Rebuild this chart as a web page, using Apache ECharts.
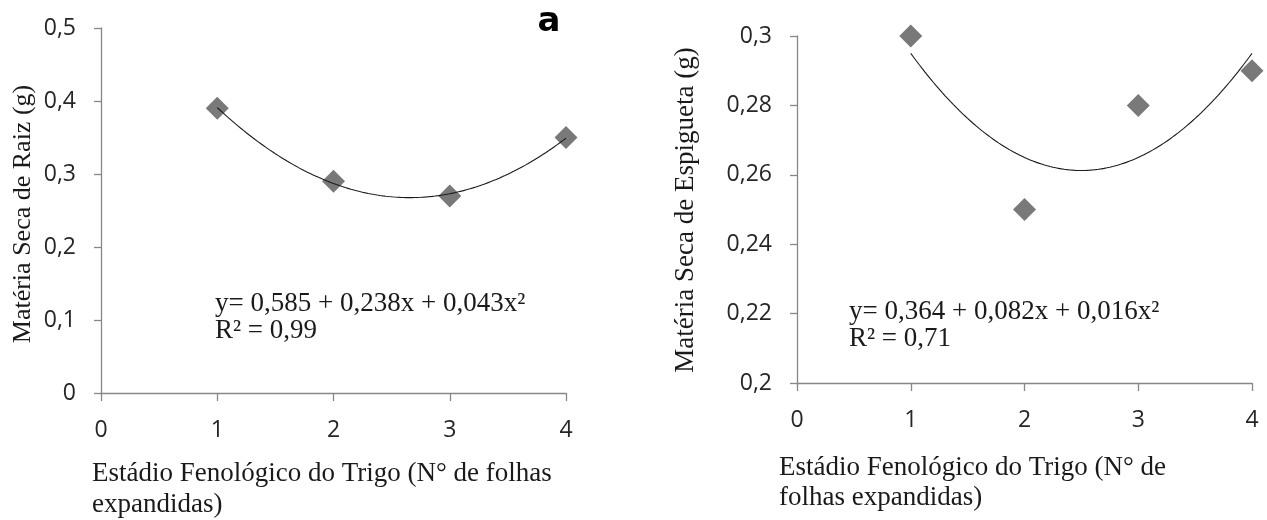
<!DOCTYPE html>
<html>
<head>
<meta charset="utf-8">
<script src="https://cdn.jsdelivr.net/npm/echarts@6/dist/echarts.min.js"></script>
<style>
  html, body { margin: 0; padding: 0; background: #fff; }
  #chart { width: 1267px; height: 520px; }
</style>
</head>
<body>
<div id="chart"></div>
<script>
// Wheat phenological stage (number of expanded leaves)
const stages = [1, 2, 3, 4];
// Root dry matter (g)
const rootDryMatter = [0.39, 0.29, 0.27, 0.35];
// Spikelet dry matter (g)
const spikeletDryMatter = [0.30, 0.25, 0.28, 0.29];

const xTicks = [0, 1, 2, 3, 4];
const rootTicks = ['0', '0,1', '0,2', '0,3', '0,4', '0,5'];
const spikeletTicks = ['0,2', '0,22', '0,24', '0,26', '0,28', '0,3'];

const rootEquation = ['y= 0,585 + 0,238x + 0,043x²', 'R² = 0,99'];
const spikeletEquation = ['y= 0,364 + 0,082x + 0,016x²', 'R² = 0,71'];

// Least-squares quadratic fit y = a + b x + c x^2
function quadFit(xs, ys) {
  let S = [0, 0, 0, 0, 0], T = [0, 0, 0];
  xs.forEach((x, i) => {
    for (let k = 0; k < 5; k++) S[k] += Math.pow(x, k);
    for (let k = 0; k < 3; k++) T[k] += ys[i] * Math.pow(x, k);
  });
  const M = [[S[0], S[1], S[2], T[0]], [S[1], S[2], S[3], T[1]], [S[2], S[3], S[4], T[2]]];
  for (let i = 0; i < 3; i++) {
    for (let j = i + 1; j < 3; j++) {
      const f = M[j][i] / M[i][i];
      for (let k = i; k < 4; k++) M[j][k] -= f * M[i][k];
    }
  }
  const c = [0, 0, 0];
  for (let i = 2; i >= 0; i--) {
    let s = M[i][3];
    for (let k = i + 1; k < 3; k++) s -= M[i][k] * c[k];
    c[i] = s / M[i][i];
  }
  return c;
}
function trend(xs, ys) {
  const [a, b, c] = quadFit(xs, ys);
  const pts = [];
  const x0 = xs[0], x1 = xs[xs.length - 1];
  for (let i = 0; i <= 120; i++) {
    const x = x0 + (x1 - x0) * i / 120;
    pts.push([x, a + b * x + c * x * x]);
  }
  return pts;
}

const axisGray = '#878787';
const tickFont = { fontFamily: 'Open Sans', fontSize: 23, color: '#262626' };
const serifFont = '27px "Liberation Serif"';

function xAxisCfg(gridIndex) {
  return {
    type: 'value', gridIndex, min: xTicks[0], max: xTicks[xTicks.length - 1], interval: 1,
    axisLine: { show: true, onZero: false, lineStyle: { color: axisGray, width: 1.3 } },
    axisTick: { show: true, length: 8, lineStyle: { color: axisGray, width: 1.3 } },
    axisLabel: Object.assign({ margin: 26 }, tickFont),
    splitLine: { show: false }
  };
}
function yAxisCfg(gridIndex, min, max, interval, labels) {
  return {
    type: 'value', gridIndex, min, max, interval,
    axisLine: { show: true, lineStyle: { color: axisGray, width: 1.3 } },
    axisTick: { show: true, length: 7, lineStyle: { color: axisGray, width: 1.3 } },
    axisLabel: Object.assign({
      margin: 25,
      formatter: v => labels[Math.round((v - min) / interval)]
    }, tickFont),
    splitLine: { show: false }
  };
}

function scatterSeries(idx, ys) {
  return {
    type: 'scatter', xAxisIndex: idx, yAxisIndex: idx,
    data: stages.map((x, i) => [x, ys[i]]),
    symbol: 'diamond', symbolSize: 23,
    itemStyle: { color: '#575757' }, z: 3
  };
}
function trendSeries(idx, ys) {
  return {
    type: 'line', xAxisIndex: idx, yAxisIndex: idx,
    data: trend(stages, ys), showSymbol: false, smooth: false,
    lineStyle: { color: '#1a1a1a', width: 1.1 }, z: 4, silent: true
  };
}

function text(x, y, str, opts) {
  return {
    type: 'text', x, y, silent: true,
    style: Object.assign({ text: str, fill: '#1a1a1a', font: serifFont, textVerticalAlign: 'middle' }, opts || {})
  };
}

const chart = echarts.init(document.getElementById('chart'), null, { renderer: 'canvas' });
chart.setOption({
  animation: false,
  backgroundColor: '#ffffff',
  grid: [
    { left: 101, top: 28, width: 465, height: 365 },
    { left: 797, top: 36, width: 455, height: 347 }
  ],
  xAxis: [xAxisCfg(0), xAxisCfg(1)],
  yAxis: [
    yAxisCfg(0, 0, 0.5, 0.1, rootTicks),
    yAxisCfg(1, 0.2, 0.3, 0.02, spikeletTicks)
  ],
  series: [
    trendSeries(0, rootDryMatter),
    scatterSeries(0, rootDryMatter),
    trendSeries(1, spikeletDryMatter),
    scatterSeries(1, spikeletDryMatter)
  ],
  graphic: [
    // panel letter
    text(549, 22, 'a', { font: 'bold 34px "DejaVu Sans"', fill: '#000', textAlign: 'center' }),
    // y-axis titles
    Object.assign(text(23, 214, 'Matéria Seca de Raiz (g)', { textAlign: 'center', font: '26px "Liberation Serif"' }), { rotation: Math.PI / 2 }),
    Object.assign(text(686, 210, 'Matéria Seca de Espigueta (g)', { textAlign: 'center' }), { rotation: Math.PI / 2 }),
    // x-axis titles
    text(92, 474, 'Estádio Fenológico do Trigo (N° de folhas'),
    text(92, 505, 'expandidas)'),
    text(779, 468, 'Estádio Fenológico do Trigo (N° de'),
    text(779, 498, 'folhas expandidas)'),
    // fitted equations
    text(215, 304, rootEquation[0]),
    text(215, 331, rootEquation[1]),
    text(849, 312, spikeletEquation[0]),
    text(849, 339, spikeletEquation[1])
  ]
});
</script>
</body>
</html>
